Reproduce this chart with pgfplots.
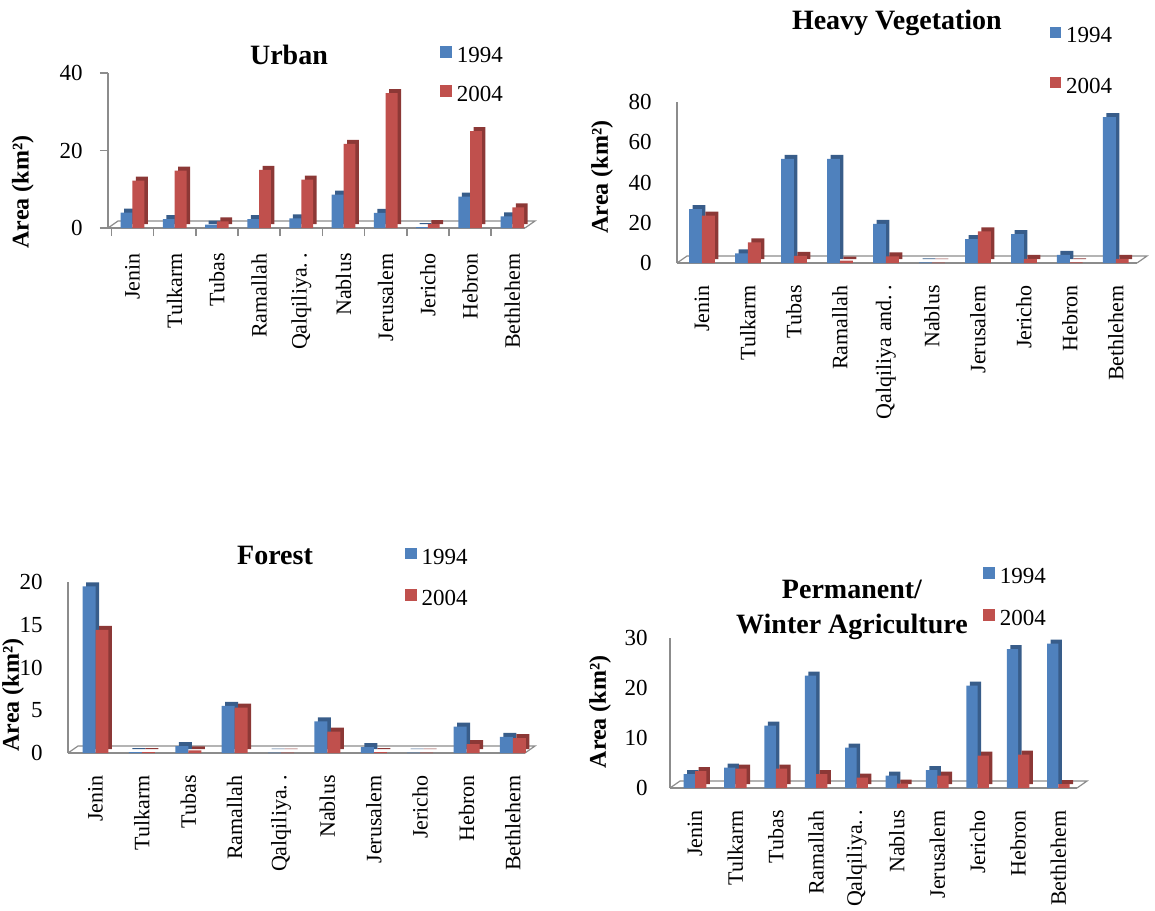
\documentclass[border=0pt]{standalone}
\usepackage{fontspec}
\setmainfont{Liberation Serif}
\usepackage{pgfplots}
\usepackage{pgfplotstable}
\pgfplotsset{compat=1.18}
\usetikzlibrary{calc}

\definecolor{blueF}{HTML}{4F81BD}
\definecolor{blueS}{HTML}{385D8A}
\definecolor{redF}{HTML}{C0504D}
\definecolor{redS}{HTML}{8C3836}
\definecolor{axgray}{HTML}{8C8C8C}

\newcommand\tickfont{\fontsize{11.5}{13}\selectfont}
\newcommand\catfont{\fontsize{11}{13}\selectfont}
\newcommand\titlefont{\fontsize{14}{17.5}\selectfont\bfseries}
\newcommand\labfont{\fontsize{12}{14}\selectfont\bfseries}

% area in km2, columns: district index, 1994, 2004
\pgfplotstableread{
x a b
1 4.0 12.2
2 2.3 14.8
3 0.9 1.7
4 2.3 15.0
5 2.5 12.5
6 8.6 21.7
7 3.9 34.8
8 0.2 1.0
9 8.1 25.0
10 3.0 5.3
}\urban
\pgfplotstableread{
x a b
1 26.8 23.5
2 4.8 10.3
3 51.7 3.6
4 51.7 1.2
5 19.4 3.3
6 0.3 0.2
7 11.9 15.7
8 14.4 2.0
9 4.1 0.3
10 72.5 2.0
}\heavy
\pgfplotstableread{
x a b
1 19.5 14.4
2 0.1 0.1
3 0.8 0.3
4 5.5 5.3
5 0.05 0.05
6 3.7 2.5
7 0.7 0.1
8 0.05 0.05
9 3.1 1.05
10 1.9 1.75
}\forest
\pgfplotstableread{
x a b
1 2.8 3.4
2 4.1 3.9
3 12.5 3.9
4 22.5 2.8
5 8.1 2.1
6 2.5 0.9
7 3.6 2.5
8 20.5 6.5
9 27.8 6.7
10 28.9 0.8
}\perm

\pgfplotsset{
  panel/.style={
    scale only axis, anchor=south west, clip=false,
    ymin=0,
    axis x line*=bottom, axis y line*=left,
    axis line style={axgray, line width=0.8pt},
    major tick length=0pt,
    tick style={axgray, line width=0.8pt},
    xtick={1,...,10},
    x tick label style={rotate=90, anchor=east, inner sep=0pt, font=\catfont},
    xticklabel shift=11pt,
    y tick label style={anchor=east, inner sep=0pt, font=\tickfont},
    yticklabel shift=12.5pt,
    /pgf/number format/assume math mode=true,
    ylabel={Area (km²)},
    ylabel style={anchor=center, font=\labfont},
    title style={anchor=center, yshift=-6pt, font=\titlefont, align=center},
    legend entries={1994,2004},
    legend cell align=left,
    legend style={draw=none, fill=none, anchor=north west, font=\tickfont,
      inner sep=0pt, nodes={inner sep=2.5pt}},
    legend image code/.code={\fill[##1] (0pt,-0.6pt) rectangle (5.75pt,5.15pt);},
  },
  sideA/.style={ybar, bar width=0.28, bar shift=-0.14, fill=blueS, draw=none,
    xshift=1.75pt, yshift=2pt, forget plot},
  frontA/.style={ybar, bar width=0.28, bar shift=-0.14, fill=blueF, draw=none},
  sideB/.style={ybar, bar width=0.28, bar shift=0.14, fill=redS, draw=none,
    xshift=1.75pt, yshift=2pt, forget plot},
  frontB/.style={ybar, bar width=0.28, bar shift=0.14, fill=redF, draw=none},
}

\newcommand\floor{%
  \draw[axgray, line width=0.6pt] (rel axis cs:0,0) -- ++(5pt,3.5pt)
    -- ($(rel axis cs:1,0)+(5pt,3.5pt)$) -- (rel axis cs:1,0);}

\begin{document}
\begin{tikzpicture}
\useasboundingbox (0,0) rectangle (577.5pt,-455pt);

% Urban
\begin{axis}[panel,
  at={(54pt,-114pt)}, width=208.5pt, height=77.5pt,
  xmin=0.42, xmax=10.3, ymax=40, ytick={0,20,40},
  xticklabels={Jenin,Tulkarm,Tubas,Ramallah,Qalqiliya.\,.,Nablus,Jerusalem,Jericho,Hebron,Bethlehem},
  xticklabel shift=12.5pt,
  extra x ticks={0.5,1.5,...,9.5}, extra x tick labels={},
  extra x tick style={major tick length=4pt, tick align=outside},
  extra y ticks={0,20,40}, extra y tick labels={},
  extra y tick style={major tick length=4pt, tick align=outside},
  title={Urban}, title style={at={(0.434,1.116)}},
  ylabel style={at={(-0.204,0.232)}},
  legend style={at={(0.796,1.2)}, row sep=5.5pt},
]
\floor
\addplot[sideA] table[x=x,y=a]{\urban};
\addplot[frontA] table[x=x,y=a]{\urban};
\addplot[sideB] table[x=x,y=b]{\urban};
\addplot[frontB] table[x=x,y=b]{\urban};
\end{axis}

% Heavy Vegetation
\begin{axis}[panel,
  at={(338.5pt,-131.5pt)}, width=230pt, height=80.5pt,
  xmin=0.457, xmax=10.46, ymax=80, ytick={0,20,...,80},
  xticklabels={Jenin,Tulkarm,Tubas,Ramallah,Qalqiliya and.\,.,Nablus,Jerusalem,Jericho,Hebron,Bethlehem},
  title={Heavy Vegetation}, title style={at={(0.478,1.49)}},
  ylabel style={at={(-0.163,0.534)}},
  legend style={at={(0.809,1.495)}, row sep=11pt},
]
\floor
\addplot[sideA] table[x=x,y=a]{\heavy};
\addplot[frontA] table[x=x,y=a]{\heavy};
\addplot[sideB] table[x=x,y=b]{\heavy};
\addplot[frontB] table[x=x,y=b]{\heavy};
\end{axis}

% Forest
\begin{axis}[panel,
  at={(34pt,-376.5pt)}, width=228.5pt, height=85.5pt,
  xmin=0.407, xmax=10.26, ymax=20, ytick={0,5,...,20},
  xticklabels={Jenin,Tulkarm,Tubas,Ramallah,Qalqiliya.\,.,Nablus,Jerusalem,Jericho,Hebron,Bethlehem},
  title={Forest}, title style={at={(0.453,1.158)}},
  ylabel style={at={(-0.12,0.339)}},
  legend style={at={(0.737,1.225)}, row sep=6.5pt},
]
\floor
\addplot[sideA] table[x=x,y=a]{\forest};
\addplot[frontA] table[x=x,y=a]{\forest};
\addplot[sideB] table[x=x,y=b]{\forest};
\addplot[frontB] table[x=x,y=b]{\forest};
\end{axis}

% Permanent / Winter Agriculture
\begin{axis}[panel,
  at={(335pt,-394pt)}, width=203.5pt, height=75pt,
  xmin=0.381, xmax=10.46, ymax=30, ytick={0,10,20,30},
  xticklabels={Jenin,Tulkarm,Tubas,Ramallah,Qalqiliya.\,.,Nablus,Jerusalem,Jericho,Hebron,Bethlehem},
  yticklabel shift=11pt,
  title={Permanent/\\Winter Agriculture}, title style={at={(0.447,1.19)}},
  ylabel style={at={(-0.172,0.507)}},
  legend style={at={(0.769,1.5)}, row sep=7pt},
]
\floor
\addplot[sideA] table[x=x,y=a]{\perm};
\addplot[frontA] table[x=x,y=a]{\perm};
\addplot[sideB] table[x=x,y=b]{\perm};
\addplot[frontB] table[x=x,y=b]{\perm};
\end{axis}
\end{tikzpicture}
\end{document}
